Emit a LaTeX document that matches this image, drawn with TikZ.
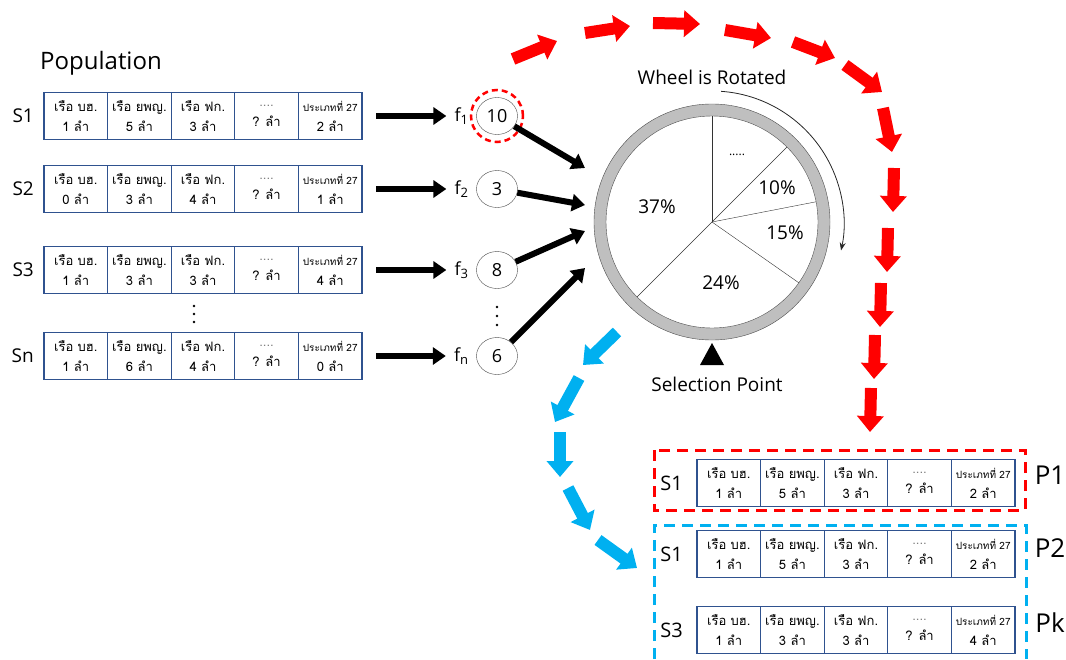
\documentclass[tikz,border=0pt]{standalone}
\usepackage{fontspec}
\setmainfont{Open Sans}
\newfontfamily\thaifont[Script=Thai]{Loma}
\usetikzlibrary{positioning,arrows.meta,shapes.geometric}

\definecolor{tblue}{RGB}{47,82,143}
\definecolor{skyb}{RGB}{0,176,240}
\definecolor{ringgray}{RGB}{191,191,191}

% one row of boat counts: name, west point, four numbers
\newcommand{\boatrow}[6]{%
  \node[cell, anchor=west] (#1-1) at #2 {เรือ บฮ.\\#3 ลำ};
  \node[cell, right=0pt of #1-1] (#1-2) {เรือ ยพญ.\\#4 ลำ};
  \node[cell, right=0pt of #1-2] (#1-3) {เรือ ฟก.\\#5 ลำ};
  \node[cell, right=0pt of #1-3] (#1-4) {{\color{gray}....}\\? ลำ};
  \node[cell, right=0pt of #1-4] (#1-5) {{\fontsize{10}{12}\selectfont ประเภทที่ 27}\\#6 ลำ};
}

\tikzset{
  cell/.style={draw=tblue, line width=1.2pt, minimum width=63.6pt, minimum height=47pt,
    inner sep=0pt, outer sep=0pt, align=center, font=\thaifont\fontsize{13}{20}\selectfont},
  rowlab/.style={inner sep=0pt, font=\fontsize{19}{19}\selectfont},
  fcirc/.style={ellipse, draw=black!70, minimum width=41pt, minimum height=37pt,
    inner sep=0pt, font=\fontsize{18}{18}\selectfont},
  fatarrow/.style={line width=6pt, -{Triangle[length=13pt, width=17pt]}},
  redblock/.style={red, line width=12pt, -{Triangle[length=16pt, width=26pt]}},
  blueblock/.style={skyb, line width=12pt, -{Triangle[length=16pt, width=26pt]}},
  pct/.style={font=\fontsize{19}{19}\selectfont},
  lbl/.style={font=\fontsize{19}{19}\selectfont},
  boxdash/.style={line width=3pt, dash pattern=on 11pt off 7pt},
}

\begin{document}
\begin{tikzpicture}[x=1pt, y=-1pt]
  \useasboundingbox (0,0) rectangle (1066,659);

  % population
  \node[anchor=west, inner sep=0pt, font=\fontsize{24}{24}\selectfont] (pop) at (40,63) {Population};
  \boatrow{s1}{(44,116)}{1}{5}{3}{2}
  \boatrow{s2}{(44,189)}{0}{3}{4}{1}
  \boatrow{s3}{(44,270)}{1}{3}{3}{4}
  \boatrow{sn}{(44,356)}{1}{6}{4}{0}
  \foreach \k/\t in {1/S1,2/S2,3/S3,n/Sn}
    \node[rowlab, left=10pt of s\k-1] (sl\k) {\t};
  \foreach \d in {306,314,322}
    \fill (194,\d) circle (1.4pt);

  % fitness values
  \foreach \k/\v/\y in {1/10/116, 2/3/189, 3/8/270, n/6/356}{
    \node[fcirc] (c\k) at (497,\y) {\v};
    \node[inner sep=0pt, left=8pt of c\k, font=\fontsize{18}{18}\selectfont] (f\k) {f{\fontsize{13}{13}\selectfont\raisebox{-3pt}{\k}}};
    \draw[fatarrow, shorten <=14pt, shorten >=8pt] (s\k-5.east) -- (f\k.west);
  }
  \foreach \d in {307,316,325}
    \fill (497,\d) circle (1.4pt);
  \draw[red, line width=2.5pt, dash pattern=on 6pt off 4pt] (c1) circle (26pt);

  % roulette wheel
  \coordinate (wc) at (712,222);
  \coordinate (w1) at (585,168);
  \coordinate (w2) at (585,205);
  \coordinate (w3) at (585,231);
  \coordinate (w4) at (585,268);
  \foreach \k/\w in {1/1,2/2,3/3,n/4}
    \draw[fatarrow] (c\k) -- (w\w);
  \fill[ringgray, draw=black!70] (wc) circle (118pt);
  \draw[fill=white, draw=black!70] (wc) circle (106pt);
  % y is flipped, so angles are negated
  \foreach \a in {-90,-45,-11,35,135}
    \draw[black!80] (wc) -- ++(\a:106);
  \node[font=\fontsize{12}{12}\selectfont] (dots) at (737,155) {.....};
  \node[pct] (p10) at (777,188) {10\%};
  \node[pct] (p15) at (785,233) {15\%};
  \node[pct] (p24) at (721,283) {24\%};
  \node[pct] (p37) at (657,207) {37\%};

  \node[lbl] (rot) at (712,77) {Wheel is Rotated};
  \draw[black!85, line width=0.8pt, -{Stealth[length=8pt, width=6pt]}] (wc) ++(-86:131) arc[start angle=-86, end angle=12, radius=132];
  \fill (712,343) -- (700,365) -- (724,365) -- cycle;
  \node[lbl] (sel) at (717,384) {Selection Point};

  % selection arrows
  \foreach \xa/\ya/\xb/\yb in {513/59/557/41, 585/33/630/26, 653/23/700/24, 725/30/771/38,
      793/42/835/58, 845/65/882/92, 883/108/892/152, 894/168/893/212, 888/228/887/272,
      881/283/880/327, 875/335/874/379, 871/388/870/432}
    \draw[redblock] (\xa,\ya) -- (\xb,\yb);
  \foreach \xa/\ya/\xb/\yb in {617/332/583/365, 579/378/555/422, 560/432/560/477,
      568/488/590/530, 598/540/637/568}
    \draw[blueblock] (\xa,\ya) -- (\xb,\yb);

  % new population
  \draw[red, boxdash] (654,450) rectangle (1025,510);
  \draw[skyb, boxdash] (654,659) -- (654,525) -- (1026,525) -- (1026,659);
  \boatrow{p1}{(697,483)}{1}{5}{3}{2}
  \boatrow{p2}{(697,554)}{1}{5}{3}{2}
  \boatrow{pk}{(697,630)}{1}{3}{3}{4}
  \foreach \k/\t in {1/S1,2/S1,k/S3}
    \node[rowlab, left=14pt of p\k-1, font=\fontsize{20}{20}\selectfont] (pl\k) {\t};
  \node[font=\fontsize{26}{26}\selectfont] (n1) at (1050,475) {P1};
  \node[font=\fontsize{26}{26}\selectfont] (n2) at (1050,548) {P2};
  \node[font=\fontsize{26}{26}\selectfont] (nk) at (1050,623) {Pk};
\end{tikzpicture}
\end{document}
